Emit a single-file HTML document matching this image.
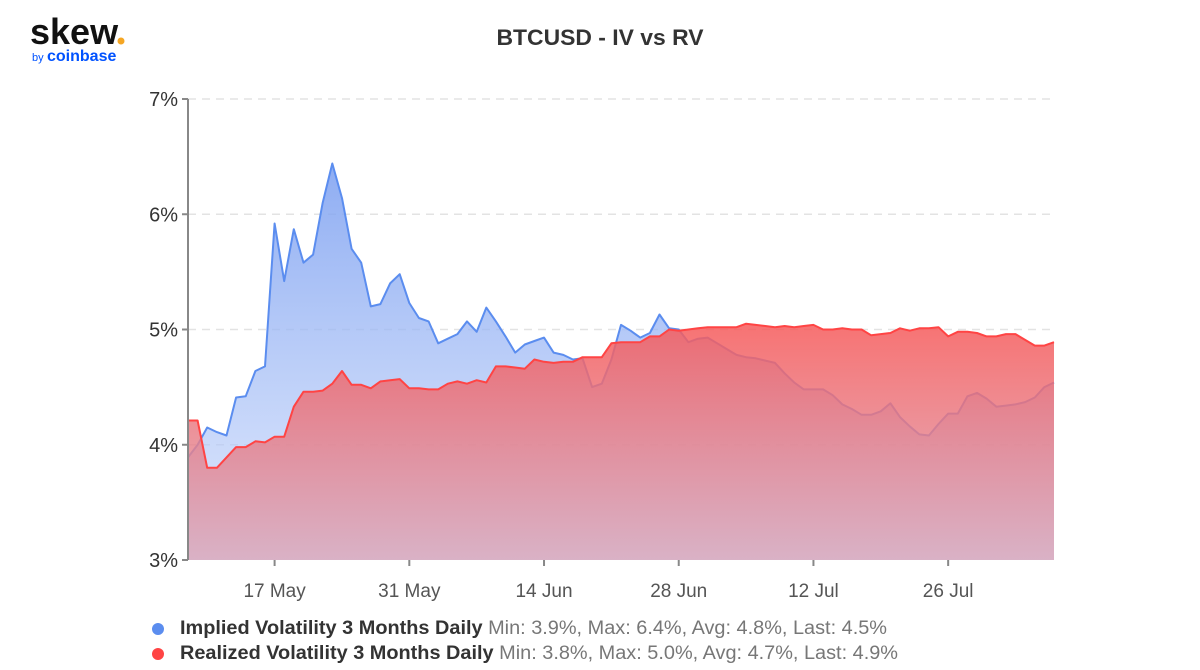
<!DOCTYPE html>
<html><head><meta charset="utf-8"><style>
body{margin:0;background:#fff;font-family:"Liberation Sans",sans-serif}
#wrap{position:relative;width:1200px;height:670px;overflow:hidden}
</style></head><body>
<div id="wrap">
<svg id="chart" width="1200" height="670" xmlns="http://www.w3.org/2000/svg">
<defs>
<linearGradient id="gIV" x1="0" y1="0" x2="0" y2="1"><stop offset="0" stop-color="#7a9ef0" stop-opacity="0.85"/><stop offset="1" stop-color="#c8d8fb" stop-opacity="0.6"/></linearGradient>
<linearGradient id="gRV" x1="0" y1="0" x2="0" y2="1"><stop offset="0" stop-color="#f65a5a" stop-opacity="0.85"/><stop offset="1" stop-color="#d8a4b8" stop-opacity="0.8"/></linearGradient>
</defs>
<g>
<text x="30" y="44" font-size="36" font-weight="bold" fill="#111">skew</text>
<circle cx="121" cy="41" r="3.5" fill="#f5a623"/>
<text x="32" y="61" font-size="11" fill="#0052ff">by</text>
<text x="47" y="61" font-size="16" font-weight="bold" fill="#0052ff">coinbase</text>
</g>
<text x="600" y="45" text-anchor="middle" font-size="22" font-weight="bold" fill="#333" textLength="207" lengthAdjust="spacingAndGlyphs">BTCUSD - IV vs RV</text>
<g id="grid"></g><g id="areas"></g><g id="axes"></g>
<g>
<circle cx="158" cy="629" r="6" fill="#5b8def"/>
<text x="180" y="634" font-size="19" fill="#333" textLength="707" lengthAdjust="spacingAndGlyphs"><tspan font-weight="bold">Implied Volatility 3 Months Daily</tspan><tspan fill="#777"> Min: 3.9%, Max: 6.4%, Avg: 4.8%, Last: 4.5%</tspan></text>
<circle cx="158" cy="654" r="6" fill="#f44"/>
<text x="180" y="659" font-size="19" fill="#333" textLength="718" lengthAdjust="spacingAndGlyphs"><tspan font-weight="bold">Realized Volatility 3 Months Daily</tspan><tspan fill="#777"> Min: 3.8%, Max: 5.0%, Avg: 4.7%, Last: 4.9%</tspan></text>
</g>
</svg>
</div>
<script>
const startDate = "2020-05-08";
const ivValues = [3.89,4.0,4.15,4.11,4.08,4.41,4.42,4.64,4.68,5.92,5.42,5.87,5.58,5.65,6.1,6.44,6.14,5.7,5.58,5.2,5.22,5.4,5.48,5.23,5.1,5.07,4.88,4.92,4.96,5.07,4.98,5.19,5.07,4.94,4.8,4.87,4.9,4.93,4.8,4.78,4.74,4.75,4.5,4.53,4.74,5.04,4.99,4.93,4.97,5.13,5.01,5.0,4.89,4.92,4.93,4.88,4.83,4.78,4.76,4.75,4.73,4.71,4.62,4.54,4.48,4.48,4.48,4.43,4.35,4.31,4.26,4.26,4.29,4.36,4.24,4.16,4.09,4.08,4.18,4.27,4.27,4.42,4.45,4.4,4.33,4.34,4.35,4.37,4.41,4.5,4.54];
const rvValues = [4.21,4.21,3.8,3.8,3.89,3.98,3.98,4.03,4.02,4.07,4.07,4.33,4.46,4.46,4.47,4.53,4.64,4.52,4.52,4.49,4.55,4.56,4.57,4.49,4.49,4.48,4.48,4.53,4.55,4.53,4.56,4.54,4.68,4.68,4.67,4.66,4.74,4.72,4.71,4.72,4.72,4.76,4.76,4.76,4.88,4.89,4.89,4.89,4.94,4.94,5.0,4.99,5.0,5.01,5.02,5.02,5.02,5.02,5.05,5.04,5.03,5.02,5.03,5.02,5.03,5.04,5.0,5.0,5.01,5.0,5.0,4.95,4.96,4.97,5.01,4.99,5.01,5.01,5.02,4.94,4.98,4.98,4.97,4.94,4.94,4.96,4.96,4.91,4.86,4.86,4.89];
const yTicks = [3,4,5,6,7];
const xTickLabels = ["17 May","31 May","14 Jun","28 Jun","12 Jul","26 Jul"];
const xTickIndex = [9,23,37,51,65,79];

const X0=188,X1=1054,Y0=560,Y1=99,NS="http://www.w3.org/2000/svg";
const n=ivValues.length;
const xs=i=>X0+(X1-X0)*i/(n-1);
const ys=v=>Y0-(v-3)/(7-3)*(Y0-Y1);
function mk(t,a,p){const e=document.createElementNS(NS,t);for(const k in a)e.setAttribute(k,a[k]);p.appendChild(e);return e;}
const grid=document.getElementById('grid'),areas=document.getElementById('areas'),axes=document.getElementById('axes');
yTicks.forEach(v=>{
  if(v>3){const l=mk('line',{x1:X0,x2:X1,y1:ys(v),y2:ys(v),stroke:'#e3e3e3','stroke-dasharray':'8,6','stroke-width':1.5},grid);
  
  }
  const tk=mk('line',{x1:X0-6,x2:X0,y1:ys(v),y2:ys(v),stroke:'#888','stroke-width':2},axes);
  
  
  const t=mk('text',{x:X0-10,y:ys(v)+7,'text-anchor':'end','font-size':20,fill:'#333'},axes);t.textContent=v+'%';
  
  
});
function series(vals,fill,stroke,name){
  let d='';vals.forEach((v,i)=>{d+=(i?'L':'M')+xs(i).toFixed(1)+','+ys(v).toFixed(1);});
  const a=mk('path',{d:d+'L'+xs(n-1)+','+Y0+'L'+X0+','+Y0+'Z',fill:fill},areas);
  
  
  const l=mk('path',{d:d,fill:'none',stroke:stroke,'stroke-width':2,'stroke-linejoin':'round'},areas);
  
  
}
series(ivValues,'url(#gIV)','#5b8def','iv');
series(rvValues,'url(#gRV)','#f44','rv');
const ya=mk('line',{x1:X0,x2:X0,y1:Y1,y2:Y0,stroke:'#888','stroke-width':2},axes);


xTickIndex.forEach((ix,k)=>{
  const tk=mk('line',{x1:xs(ix),x2:xs(ix),y1:Y0,y2:Y0+6,stroke:'#888','stroke-width':2},axes);
  
  
  const t=mk('text',{x:xs(ix),y:Y0+37,'text-anchor':'middle','font-size':19,fill:'#555'},axes);t.textContent=xTickLabels[k];
  
  
});
</script>
</body></html>
